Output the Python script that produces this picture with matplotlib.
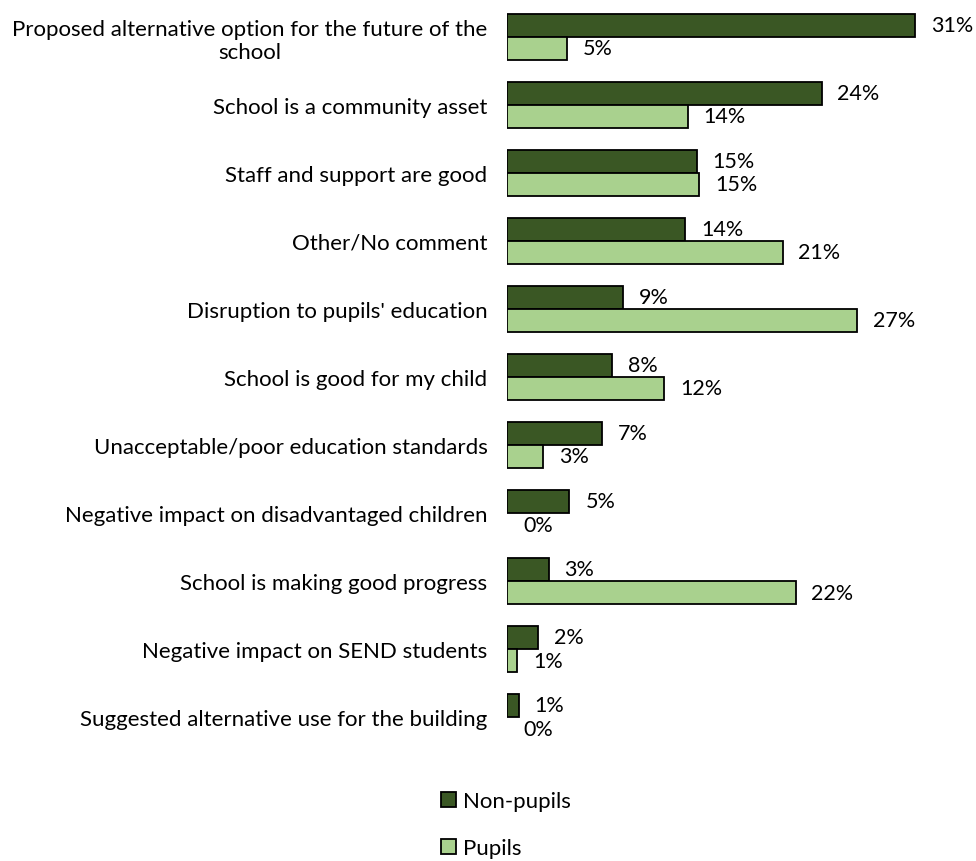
import numpy as np
import matplotlib.pyplot as plt

plt.rcParams['font.family'] = ['Lato', 'DejaVu Sans']

# categories, top to bottom
categories = [
    'Proposed alternative option for the future of the\nschool',
    'School is a community asset',
    'Staff and support are good',
    'Other/No comment',
    "Disruption to pupils' education",
    'School is good for my child',
    'Unacceptable/poor education standards',
    'Negative impact on disadvantaged children',
    'School is making good progress',
    'Negative impact on SEND students',
    'Suggested alternative use for the building',
]
non_pupils = [31.4, 24.2, 14.6, 13.7, 8.9, 8.1, 7.3, 4.8, 3.2, 2.4, 0.9]
pupils = [4.6, 13.9, 14.8, 21.2, 26.9, 12.1, 2.8, 0.0, 22.2, 0.8, 0.0]

dark = '#3A5724'
light = '#A9D18E'

fig = plt.figure(figsize=(9.76, 8.62), dpi=100)
ax = fig.add_axes([0.5195, 0.1276, 0.466, 0.868])

y = np.arange(len(categories))
h = 0.34
b1 = ax.barh(y - h / 2, non_pupils, height=h, color=dark, edgecolor='black',
             linewidth=1.3, label='Non-pupils')
b2 = ax.barh(y + h / 2, pupils, height=h, color=light, edgecolor='black',
             linewidth=1.3, label='Pupils')

for bars, vals in ((b1, non_pupils), (b2, pupils)):
    for bar, v in zip(bars, vals):
        if v == 0:
            bar.set_linewidth(0)
        ax.annotate(f'{round(v)}%', (v, bar.get_y() + bar.get_height() / 2),
                    xytext=(11.5, 0), textcoords='offset points',
                    va='center', ha='left', fontsize=15.5)

ax.set_xlim(0, 35)
ax.set_ylim(len(categories) - 0.5, -0.5)
ax.set_yticks(y)
ax.set_yticklabels(categories, fontsize=16, multialignment='center')
ax.tick_params(axis='y', length=0, pad=14)
ax.set_xticks([])
for s in ax.spines.values():
    s.set_visible(False)

fig.legend(handles=[b1, b2], loc='center', bbox_to_anchor=(0.518, 0.042),
           frameon=False, fontsize=16, ncol=1, labelspacing=1.2,
           handlelength=0.7, handleheight=0.7, handletextpad=0.3)

plt.savefig('out.png', dpi=100)
